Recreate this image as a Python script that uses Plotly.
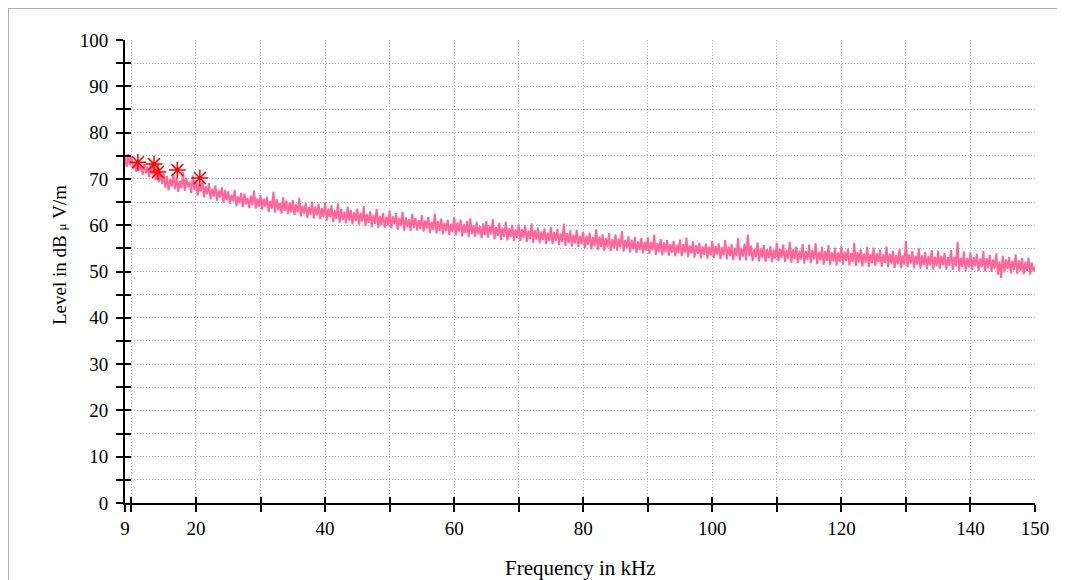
import numpy as np
import plotly.graph_objects as go

# Sweep: 9 kHz .. 150 kHz, 0.25 kHz steps
freq_start, freq_step = 9.0, 0.25
level = [
    # 9.0
    74.8, 72.6, 75.4, 73.0,
    # 10
    75.1, 72.2, 73.6, 71.5, 74.0, 71.8, 72.9, 70.9, 73.3, 71.2, 72.6, 70.4, 73.5, 71.0, 72.1, 69.8, 72.4, 69.3, 71.5, 68.9,
    # 15
    71.2, 68.1, 70.6, 67.5, 69.9, 68.4, 71.1, 67.8, 70.2, 67.2, 69.6, 68.0, 71.5, 67.4, 70.3, 68.2, 69.4, 67.0, 70.7, 67.6,
    # 20
    69.8, 66.4, 68.9, 67.3, 69.5, 66.0, 68.4, 66.7, 69.1, 65.6, 67.9, 66.2, 68.6, 65.3, 67.5, 66.0, 68.2, 64.9, 67.6, 65.4,
    # 25
    67.3, 64.6, 66.5, 65.2, 67.6, 64.1, 66.2, 64.8, 67.0, 63.9, 66.8, 64.5, 65.9, 63.7, 66.4, 64.3, 67.5, 63.6, 65.8, 64.0,
    # 30
    66.5, 63.4, 65.7, 64.0, 66.1, 62.9, 65.2, 63.6, 67.2, 62.7, 65.6, 63.3, 64.8, 62.5, 66.0, 63.1, 65.3, 62.4, 64.9, 62.8,
    # 35
    65.4, 62.2, 64.5, 62.8, 65.9, 61.9, 64.2, 62.5, 64.8, 61.6, 63.9, 62.3, 65.1, 61.4, 64.0, 62.1, 64.6, 61.3, 63.7, 61.8,
    # 40
    64.9, 61.0, 63.6, 61.7, 64.3, 60.7, 63.2, 61.4, 64.7, 60.5, 63.5, 61.1, 62.9, 60.4, 64.0, 61.0, 63.3, 60.2, 62.8, 60.9,
    # 45
    63.6, 60.1, 62.7, 60.8, 64.1, 59.8, 62.4, 60.5, 63.0, 59.6, 62.2, 60.3, 63.5, 59.4, 62.0, 60.1, 62.6, 59.5, 61.8, 60.0,
    # 50
    63.2, 59.3, 61.9, 60.2, 62.6, 59.0, 61.5, 59.8, 62.9, 58.8, 61.7, 59.6, 61.3, 58.7, 62.4, 59.4, 61.6, 58.9, 61.1, 59.2,
    # 55
    62.2, 58.6, 61.0, 59.3, 61.8, 58.3, 60.7, 59.0, 62.5, 58.2, 60.9, 58.8, 61.4, 58.0, 60.5, 58.7, 61.2, 57.9, 60.3, 58.5,
    # 60
    61.8, 57.8, 60.6, 58.6, 61.2, 57.6, 60.2, 58.3, 60.9, 57.4, 61.5, 58.1, 60.0, 57.5, 60.7, 58.0, 59.8, 57.2, 60.4, 57.9,
    # 65
    60.9, 57.3, 59.9, 58.0, 61.3, 57.0, 59.6, 57.7, 60.5, 56.8, 59.4, 57.5, 60.8, 56.7, 59.3, 57.4, 60.1, 56.6, 59.1, 57.2,
    # 70
    60.2, 56.6, 59.2, 57.3, 59.9, 56.4, 58.8, 57.0, 60.4, 56.2, 58.9, 56.9, 59.5, 56.1, 58.6, 56.8, 59.3, 55.9, 58.4, 56.6,
    # 75
    59.6, 55.9, 58.5, 56.6, 59.2, 55.7, 58.2, 56.4, 60.3, 55.5, 58.3, 56.2, 58.9, 55.4, 57.9, 56.1, 59.0, 55.3, 57.7, 55.9,
    # 80
    58.6, 55.0, 57.7, 55.8, 58.4, 54.8, 57.4, 55.5, 59.1, 54.6, 57.5, 55.3, 58.0, 54.5, 57.2, 55.2, 58.3, 54.4, 57.0, 55.0,
    # 85
    58.0, 54.5, 57.1, 55.2, 58.7, 54.3, 56.8, 55.0, 57.6, 54.1, 56.9, 54.8, 57.4, 54.0, 56.5, 54.7, 57.2, 53.9, 56.4, 54.5,
    # 90
    57.4, 53.8, 56.4, 54.6, 57.9, 53.6, 56.1, 54.3, 57.0, 53.5, 56.3, 54.2, 56.8, 53.4, 55.9, 54.1, 56.6, 53.3, 55.8, 53.9,
    # 95
    56.9, 53.3, 55.9, 54.1, 57.3, 53.1, 55.6, 53.9, 56.5, 53.0, 55.7, 53.8, 56.2, 52.9, 55.4, 53.6, 56.0, 52.8, 55.3, 53.5,
    # 100
    56.6, 52.9, 55.5, 53.7, 56.1, 52.7, 55.2, 53.5, 56.8, 52.6, 55.4, 53.4, 55.9, 52.5, 55.1, 53.3, 57.2, 52.4, 55.0, 53.2,
    # 105
    56.0, 52.4, 58.0, 53.3, 55.6, 52.3, 54.9, 53.1, 56.3, 52.2, 55.0, 53.0, 55.7, 52.1, 54.8, 52.9, 55.5, 52.0, 54.7, 52.8,
    # 110
    56.2, 52.2, 54.9, 53.0, 55.8, 52.0, 54.6, 52.8, 56.4, 51.9, 54.8, 52.7, 55.4, 51.8, 54.5, 52.6, 55.9, 51.7, 54.4, 52.5,
    # 115
    55.8, 51.8, 54.6, 52.6, 56.1, 51.6, 54.3, 52.4, 55.3, 51.5, 54.4, 52.3, 55.7, 51.4, 54.2, 52.2, 55.1, 51.3, 54.1, 52.1,
    # 120
    55.6, 51.5, 54.3, 52.3, 55.0, 51.3, 54.0, 52.1, 56.2, 51.2, 54.2, 52.0, 54.8, 51.1, 53.9, 51.9, 55.3, 51.0, 53.8, 51.8,
    # 125
    55.1, 51.2, 53.9, 52.0, 54.7, 51.0, 53.7, 51.8, 55.4, 50.9, 53.8, 51.7, 54.5, 50.8, 53.6, 51.6, 54.9, 50.7, 53.5, 51.5,
    # 130
    56.6, 50.9, 53.7, 51.7, 54.4, 50.7, 53.4, 51.5, 55.0, 50.6, 53.5, 51.4, 54.2, 50.5, 53.3, 51.3, 54.6, 50.4, 53.2, 51.2,
    # 135
    54.5, 50.6, 53.4, 51.4, 54.0, 50.4, 53.1, 51.2, 54.7, 50.3, 53.2, 51.1, 56.4, 50.2, 53.0, 51.0, 54.3, 50.1, 52.9, 50.9,
    # 140
    54.2, 50.3, 53.1, 51.1, 53.8, 50.1, 52.8, 50.9, 54.4, 50.0, 52.9, 50.7, 53.6, 49.9, 52.6, 50.6, 53.9, 49.3, 52.2, 48.6,
    # 145
    53.4, 49.8, 52.6, 50.5, 53.1, 49.6, 52.3, 50.3, 53.7, 49.5, 52.4, 50.2, 52.9, 49.4, 52.1, 50.1, 53.0, 49.3, 51.9, 50.0,
    # 150
    51.0,
]
freq = np.arange(len(level)) * freq_step + freq_start

# Peak markers
peak_freq = [11.0, 13.5, 14.1, 17.1, 20.6]
peak_level = [73.6, 73.2, 71.5, 71.9, 70.2]

# Axis ticks
x_tickvals = [9, 10, 20, 30, 40, 50, 60, 70, 80, 90, 100, 110, 120, 130, 140, 150]
x_ticktext = ["9", "", "20", "", "40", "", "60", "", "80", "", "100", "", "120", "", "140", "150"]
y_tickvals = list(range(0, 101, 5))
y_ticktext = [str(v) if v % 10 == 0 else "" for v in y_tickvals]

FONT = "Liberation Serif"
W, H = 1057, 572
ML, MR, MT, MB = 117, 30, 32, 77
PW, PH = W - ML - MR, H - MT - MB

def px(x):  # figure pixel -> paper x
    return (x - ML) / PW

def py(y):  # figure pixel -> paper y
    return (H - MB - y) / PH

fig = go.Figure()
fig.add_trace(go.Scatter(
    x=freq, y=level, mode="lines",
    line=dict(color="#FF6699", width=2),
    showlegend=False, hoverinfo="skip",
))
fig.add_trace(go.Scatter(
    x=peak_freq, y=peak_level, mode="markers",
    marker=dict(symbol="asterisk-open", size=14, color="#FF0000",
                line=dict(color="#FF0000", width=1.5)),
    showlegend=False, hoverinfo="skip",
))
fig.add_trace(go.Scatter(x=[None], y=[None], xaxis="x2", yaxis="y2",
                         showlegend=False, hoverinfo="skip"))

common_x = dict(range=[9, 150], tickmode="array", tickvals=x_tickvals)
common_y = dict(range=[0, 100], tickmode="array", tickvals=y_tickvals)
grid = dict(showgrid=True, gridcolor="#b4b4b4", griddash="1px,2px", gridwidth=1)

fig.update_layout(
    width=W, height=H,
    margin=dict(l=ML, r=MR, t=MT, b=MB),
    paper_bgcolor="white", plot_bgcolor="white",
    font=dict(family=FONT, size=18, color="black"),
    xaxis=dict(
        **common_x, ticktext=x_ticktext, **grid,
        showline=True, linecolor="black", linewidth=2,
        ticks="outside", ticklen=7, tickwidth=2, tickcolor="black",
        zeroline=False, tickfont=dict(family=FONT, size=19),
    ),
    yaxis=dict(
        **common_y, ticktext=y_ticktext, **grid,
        showline=True, linecolor="black", linewidth=2,
        ticks="outside", ticklen=7, tickwidth=2, tickcolor="black",
        zeroline=False, tickfont=dict(family=FONT, size=19),
        ticklabelstandoff=4,
    ),
    xaxis2=dict(
        **common_x, overlaying="x", anchor="y", side="bottom",
        ticks="inside", ticklen=6, tickwidth=2, tickcolor="black",
        showticklabels=False, showgrid=False, zeroline=False, showline=False,
    ),
    yaxis2=dict(
        **common_y, overlaying="y", anchor="x", side="left",
        ticks="inside", ticklen=6, tickwidth=2, tickcolor="black",
        showticklabels=False, showgrid=False, zeroline=False, showline=False,
    ),
    annotations=[
        dict(text="Frequency in kHz", xref="paper", yref="paper",
             x=0.5, y=py(560), xanchor="center", yanchor="middle",
             showarrow=False, font=dict(family=FONT, size=21)),
        dict(text="Level in dB <span style='font-size:13px'>μ</span> V/m",
             xref="paper", yref="paper",
             x=px(52), y=py(247), xanchor="center", yanchor="middle",
             textangle=-90, showarrow=False, font=dict(family=FONT, size=19)),
    ],
    shapes=[
        dict(type="rect", xref="paper", yref="paper",
             x0=px(0), y0=py(H + 20), x1=px(W + 20), y1=py(0),
             line=dict(color="#b0b0b0", width=2), layer="below"),
    ],
)

fig.write_html("out.html")
